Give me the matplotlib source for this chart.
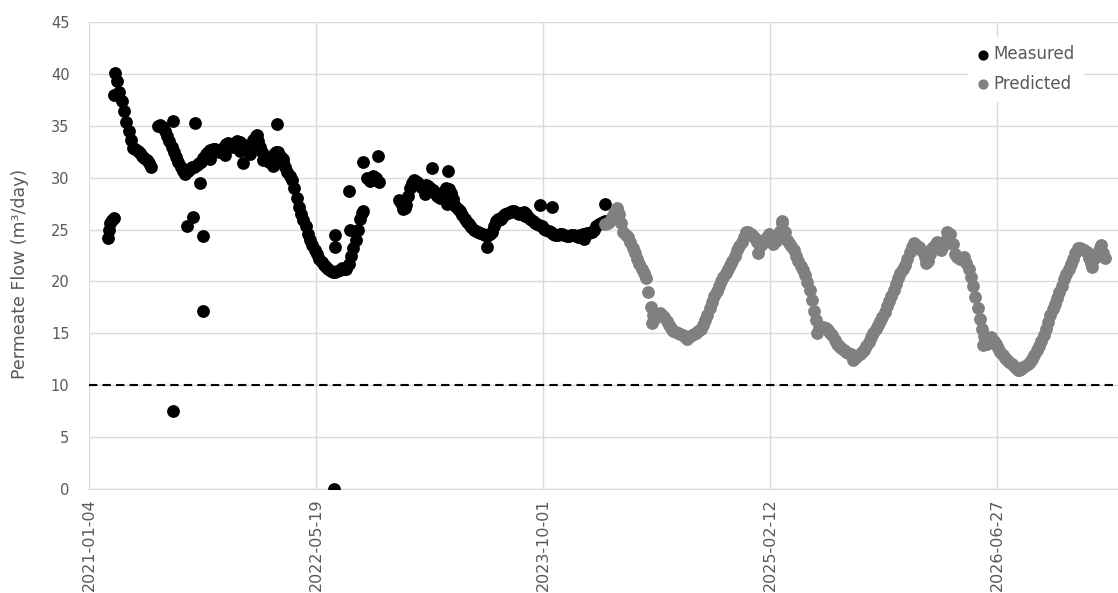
import matplotlib
matplotlib.use("Agg")
import matplotlib.pyplot as plt
import matplotlib.dates as mdates
import numpy as np
import pandas as pd

nan = np.nan

# Measured permeate flow (m3/day), every 5 days from 2021-03-02 (NaN = no data)
measured_start = "2021-03-02"
measured = [40.1, 39.3, 38.3, 37.4, 36.4, 35.4, 34.5, 33.6, 32.9, 32.8,
            32.6, 32.4, 32.1, 31.9, 31.7, 31.4, 31.0, nan, nan, 35.0,
            35.1, 34.9, 34.5, 34.0, 33.5, 33.0, 32.5, 32.0, 31.5, 31.0,
            30.6, 30.4, 30.6, 30.8, 31.0, 31.0, 31.2, 31.4, 31.5, 31.9,
            32.3, 32.5, 32.7, 32.8, 32.8, 32.6, 32.5, 32.7, 33.0, 33.2,
            33.3, 33.1, 33.0, 33.3, 33.5, 33.4, 33.2, 33.0, 32.8, 33.0,
            33.2, 33.6, 34.0, 33.5, 33.0, 32.5, 32.0, 31.7, 31.5, 31.9,
            32.3, 32.5, 32.5, 32.0, 31.5, 31.0, 30.5, 30.2, 29.8, 29.0,
            28.0, 27.2, 26.5, 25.9, 25.3, 24.6, 24.0, 23.5, 23.0, 22.6,
            22.2, 21.9, 21.6, 21.4, 21.2, 21.0, 20.9, 20.9, 21.0, 21.1,
            21.3, 21.2, 21.2, 21.7, 22.5, 23.2, 24.0, 25.0, 26.0, 26.6,
            nan, nan, nan, nan, nan, nan, nan, nan, nan, nan,
            nan, nan, nan, nan, nan, 27.8,
            27.6, 27.0, 27.4, 28.2, 29.0, 29.5, 29.7, 29.6, 29.4, 29.1,
            29.0, 29.3, 29.2, 29.0, 28.8, 28.5, 28.2, 28.0, 28.3, 28.7,
            29.0, 28.9, 28.5, 27.9, 27.3, 27.0, 26.8, 26.4, 26.0, 25.7,
            25.5, 25.2, 25.0, 24.9, 24.8, 24.7, 24.6, 24.5, 24.4, 24.6,
            24.8, 25.3, 25.8, 25.9, 26.0, 26.3, 26.5, 26.6, 26.7, 26.8,
            26.8, 26.6, 26.5, 26.6, 26.7, 26.5, 26.2, 26.0, 25.8, 25.6,
            25.5, 25.4, 25.3, 25.1, 25.0, 24.9, 24.8, 24.6, 24.5, 24.5,
            24.6, 24.6, 24.5, 24.4, 24.4, 24.5, 24.5, 24.4, 24.3, 24.5,
            24.6, 24.6, 24.7, 24.7, 24.8, 25.0, 25.3, 25.5, 25.6, 25.7,
            25.8]

# Scattered measured points: days after 2021-01-04 and value
extra_days = [42, 44, 47, 51, 55, 55, 185, 233, 413, 244, 229, 215, 251, 250,
              184, 540, 542, 542, 573, 575, 603, 612, 619, 625, 632, 638, 637,
              755, 791, 876, 993, 1019, 1136, 339, 383, 405, 369, 603, 696, 788,
              266, 300, 333, 355, 394, 427, 716, 740, 900, 960, 1090]
extra_vals = [24.2, 25.0, 25.6, 25.9, 26.1, 38.0, 35.5, 35.3, 35.2, 29.5, 26.2,
              25.3, 24.4, 17.2, 7.5, 0.0, 24.5, 23.3, 28.7, 25.0, 31.5, 30.0,
              29.7, 30.2, 30.0, 29.6, 32.1, 30.9, 30.6, 23.3, 27.4, 27.2, 27.5,
              31.4, 31.7, 31.1, 34.1, 26.8, 27.1, 27.5,
              31.8, 32.2, 32.6, 32.3, 31.6, 31.8, 29.8, 28.4, 26.0, 26.3, 24.1]

# Predicted permeate flow, every 5 days from 2024-02-15
predicted_start = "2024-02-15"
predicted = [25.5, 25.6, 25.8, 26.2, 26.6, 26.9, 26.5, 25.6, 24.8, 24.5,
             24.3, 23.8, 23.2, 22.7, 22.2, 21.7, 21.2, 20.8, 20.3, 19.0,
             17.5, 16.8, 16.5, 16.8, 17.0, 16.8, 16.6, 16.2, 15.8, 15.5,
             15.2, 15.1, 15.0, 14.9, 14.8, 14.6, 14.5, 14.6, 14.8, 14.9,
             15.0, 15.2, 15.4, 15.8, 16.3, 16.8, 17.4, 18.0, 18.6, 19.1,
             19.6, 20.0, 20.4, 20.8, 21.2, 21.6, 22.0, 22.5, 23.0, 23.4,
             23.8, 24.3, 24.8, 24.8, 24.6, 24.4, 24.2, 23.8, 23.4, 23.6,
             24.0, 24.3, 24.6, 24.0, 23.6, 23.9, 24.3, 24.9, 25.6, 24.8,
             24.0, 23.7, 23.4, 23.0, 22.5, 22.0, 21.5, 21.1, 20.6, 19.9,
             19.2, 18.2, 17.2, 16.3, 15.5, 15.6, 15.6, 15.5, 15.3, 15.0,
             14.8, 14.4, 14.0, 13.8, 13.6, 13.4, 13.2, 13.1, 13.0, 12.8,
             12.6, 12.8, 13.0, 13.2, 13.4, 13.8, 14.2, 14.6, 15.0, 15.4,
             15.8, 16.2, 16.6, 17.1, 17.6, 18.1, 18.6, 19.2, 19.8, 20.3,
             20.8, 21.2, 21.6, 22.2, 22.8, 23.3, 23.7, 23.5, 23.3, 23.0,
             22.8, 22.4, 22.0, 22.6, 23.2, 23.5, 23.8, 23.4, 23.0, 23.5,
             24.0, 24.3, 24.6, 23.6, 22.6, 22.4, 22.2, 22.3, 22.4, 21.8,
             21.2, 20.4, 19.6, 18.5, 17.4, 16.4, 15.4, 14.7, 14.0, 14.3,
             14.6, 14.3, 14.0, 13.6, 13.2, 12.9, 12.6, 12.4, 12.2, 12.0,
             11.9, 11.7, 11.5, 11.6, 11.8, 11.9, 12.0, 12.2, 12.5, 12.9,
             13.4, 13.8, 14.3, 14.8, 15.4, 16.1, 16.8, 17.3, 17.8, 18.4,
             19.0, 19.6, 20.2, 20.7, 21.2, 21.7, 22.2, 22.7, 23.2, 23.2,
             23.1, 23.0, 22.8, 22.3, 21.8, 22.1, 22.4, 22.8, 23.2, 22.7,
             22.3]

# Scattered predicted points: days after 2021-01-04 and value
pred_extra_days = [1239, 1474, 1844, 1969, 2209, 1603, 1683, 2046, 1162, 1526, 1890, 2228]
pred_extra_vals = [16.0, 22.7, 21.8, 13.9, 21.4, 15.0, 12.4, 11.5, 27.1, 25.8, 24.8, 23.5]

threshold = 10
tick_start = "2021-01-04"
x_end_days = 2266

base = pd.Timestamp(tick_start)
meas_dates = pd.date_range(measured_start, periods=len(measured), freq="5D")
pred_dates = pd.date_range(predicted_start, periods=len(predicted), freq="5D")
extra_dates = base + pd.to_timedelta(extra_days, unit="D")
pred_extra_dates = base + pd.to_timedelta(pred_extra_days, unit="D")

fig = plt.figure(figsize=(11.18, 5.93), dpi=100)
ax = fig.add_axes([89 / 1118, 1 - 489 / 593, 1 - 89 / 1118, (489 - 22) / 593])

grid_c = "#d9d9d9"
text_c = "#595959"
ms = 85

ax.scatter(meas_dates, measured, s=ms, color="black", zorder=3, label="Measured", linewidths=0)
ax.scatter(extra_dates, extra_vals, s=ms, color="black", zorder=3, linewidths=0)
ax.scatter(pred_dates, predicted, s=ms, color="#808080", zorder=4, label="Predicted", linewidths=0)
ax.scatter(pred_extra_dates, pred_extra_vals, s=ms, color="#808080", zorder=4, linewidths=0)

ax.axhline(threshold, color="black", linestyle=(0, (4, 2.5)), linewidth=1.5, zorder=2)

ax.set_ylim(0, 45)
ax.set_yticks(range(0, 46, 5))
ax.set_xlim(base, base + pd.Timedelta(days=x_end_days))
ax.set_xticks(pd.date_range(tick_start, periods=5, freq="500D"))
ax.xaxis.set_major_formatter(mdates.DateFormatter("%Y-%m-%d"))

ax.grid(True, color=grid_c, linewidth=1)
ax.set_axisbelow(True)
for s in ["top", "right", "left"]:
    ax.spines[s].set_visible(False)
ax.spines["bottom"].set_color(grid_c)
ax.tick_params(length=0, colors=text_c)
ax.tick_params(axis="x", rotation=90, pad=7, labelsize=11.5)
ax.tick_params(axis="y", pad=14, labelsize=10.5)

ax.set_ylabel("Permeate Flow (m³/day)", color=text_c, fontsize=12.5)
ax.yaxis.set_label_coords(-0.058, 0.46)

leg = ax.legend(loc="upper left", bbox_to_anchor=(0.854, 0.968), frameon=True,
                fontsize=12, markerscale=0.8, borderaxespad=0, borderpad=0.5,
                handlelength=0.8, handletextpad=0.26, labelspacing=0.69)
leg.get_frame().set_facecolor("white")
leg.get_frame().set_edgecolor("white")
leg.get_frame().set_alpha(1)
for t in leg.get_texts():
    t.set_color(text_c)

fig.savefig("out.png", dpi=100)
